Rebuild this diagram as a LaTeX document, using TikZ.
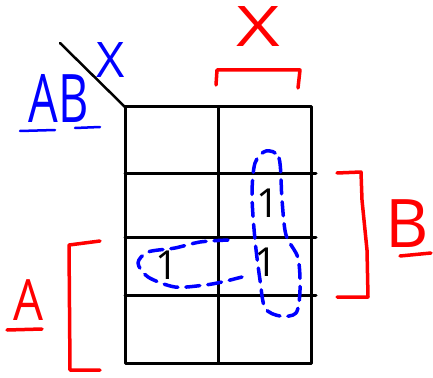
\documentclass[tikz,border=0pt]{standalone}
\usepackage{fontspec}
\setmainfont{Open Sans}

\begin{document}
\begin{tikzpicture}[x=1pt,y=-1pt,line cap=round,line join=round,
  gridline/.style={line width=3pt},
  bracket/.style={red, line width=3.5pt},
  loop/.style={blue, line width=3.5pt, dash pattern=on 14pt off 8pt},
  one/.style={inner sep=0pt, font=\fontsize{40}{40}\selectfont}]
\useasboundingbox (0,0) rectangle (433,377);
% Map grid
\draw[gridline] (125,107) rectangle (311,363);
\draw[gridline] (218,107) -- (218,363);
\foreach \y in {173,237,295}
  \draw[gridline] (125,\y) -- (316,\y);
% Corner line and variable names
\draw[line width=2.5pt] (60,43) -- (125,107);
\node[blue, inner sep=0pt] (ab) at (59,98) {\scalebox{0.7}[1]{\fontsize{67}{67}\selectfont AB}};
\draw[blue, line width=2.5pt] (20,131) -- (55,130);
\draw[blue, line width=2.5pt] (75,128) -- (100,127);
\node[blue, inner sep=0pt, font=\fontsize{49}{49}\selectfont] (xtop) at (111,60) {X};
% X bracket
\node[red, inner sep=0pt] (xred) at (258,27) {\scalebox{1.35}[1]{\fontsize{56}{56}\selectfont X}};
\draw[bracket] (216,85) -- (217,70) -- (300,70) -- (298,88);
% B bracket
\draw[bracket] (337,173) -- (361,172) -- (362,200) -- (367,250) -- (368,297) -- (337,297);
\node[red, inner sep=0pt, font=\fontsize{67}{67}\selectfont] (bred) at (407,224) {B};
\draw[bracket] (400,256) -- (431,253);
% A bracket
\draw[bracket] (100,241) -- (69,245) -- (70,370) -- (100,370);
\node[red, inner sep=0pt] (ared) at (28,300) {\scalebox{0.83}[1]{\fontsize{57}{57}\selectfont A}};
\draw[bracket] (7,330) -- (42,329);
% Ones
\node[one] (one1) at (167,265) {1};
\node[one] (one2) at (268,203) {1};
\node[one] (one3) at (266,262) {1};
% Groups
\draw[loop] plot[smooth cycle] coordinates {(266,151) (279,158) (282,200) (286,235) (298,258) (300,290) (296,313) (280,316) (265,308) (260,280) (255,240) (252,195) (255,163)};
\draw[loop] plot[smooth] coordinates {(228,240) (200,242) (175,248) (148,252) (138,263) (148,277) (175,287) (205,285) (222,282) (242,277)};
\end{tikzpicture}
\end{document}
